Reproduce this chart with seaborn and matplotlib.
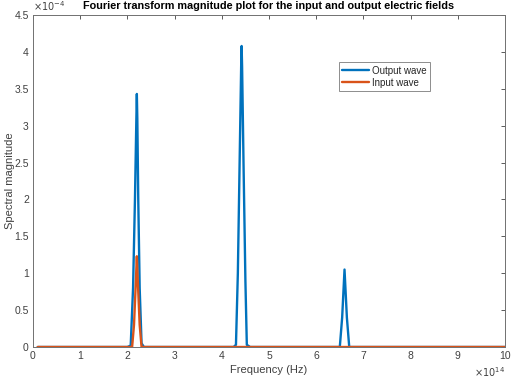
import matplotlib
matplotlib.use("Agg")
import matplotlib.pyplot as plt
import seaborn as sns
import pandas as pd

# Frequencies in units of 1e14 Hz, magnitudes in units of 1e-4
output_freq = [0.1, 2.0, 2.07, 2.12, 2.16, 2.19, 2.2, 2.21, 2.23, 2.26, 2.3, 2.35,
               4.25, 4.3, 4.34, 4.38, 4.41, 4.42, 4.43, 4.46, 4.5, 4.53, 4.6,
               6.5, 6.55, 6.6, 6.65, 6.7, 10.0]
output_mag = [0.0, 0.0, 0.02, 0.8, 2.0, 3.1, 3.43, 3.1, 2.0, 0.8, 0.05, 0.0,
              0.0, 0.03, 1.0, 2.6, 3.8, 4.08, 3.8, 2.5, 0.9, 0.03, 0.0,
              0.0, 0.4, 1.05, 0.4, 0.0, 0.0]
input_freq = [0.1, 2.1, 2.14, 2.18, 2.2, 2.22, 2.26, 2.3, 10.0]
input_mag = [0.0, 0.0, 0.3, 0.9, 1.23, 0.9, 0.3, 0.0, 0.0]

xticks = list(range(0, 11))
yticks = [0, 0.5, 1, 1.5, 2, 2.5, 3, 3.5, 4, 4.5]
ytick_labels = ["0", "0.5", "1", "1.5", "2", "2.5", "3", "3.5", "4", "4.5"]

title = "Fourier transform magnitude plot for the input and output electric fields"
xlabel = "Frequency (Hz)"
ylabel = "Spectral magnitude"

blue = "#0072BD"
red = "#D95319"

sns.set_style("white")
plt.rcParams["font.family"] = ["Liberation Sans", "DejaVu Sans"]

df_out = pd.DataFrame({"f": output_freq, "m": output_mag})
df_in = pd.DataFrame({"f": input_freq, "m": input_mag})

fig = plt.figure(figsize=(5.11, 3.80), dpi=100)
ax = fig.add_axes([33 / 511, 1 - 347 / 380, 472 / 511, 332 / 380])

sns.lineplot(data=df_out, x="f", y="m", ax=ax, color=blue, lw=1.7,
             sort=False, estimator=None, label="Output wave")
sns.lineplot(data=df_in, x="f", y="m", ax=ax, color=red, lw=1.7,
             sort=False, estimator=None, label="Input wave")

ax.set_xlim(0, 10)
ax.set_ylim(0, 4.5)
ax.set_xticks(xticks)
ax.set_xticklabels([str(t) for t in xticks])
ax.set_yticks(yticks)
ax.set_yticklabels(ytick_labels)

tc = "#404040"
ax.tick_params(direction="in", length=3, width=0.6, colors=tc, labelsize=7.5,
               top=True, right=True, pad=3)
ax.tick_params(axis="both", labelcolor=tc)
for s in ax.spines.values():
    s.set_visible(True)
    s.set_color("#707070")
    s.set_linewidth(0.7)

ax.set_xlabel(xlabel, fontsize=8, color=tc, labelpad=3)
ax.set_ylabel(ylabel, fontsize=8, color=tc, va="center")
ax.yaxis.set_label_coords(-0.048, 0.5)
ax.set_title(title, fontsize=7.8, fontweight="bold", color="black", pad=4)

ax.text(0.0, 1.005, r"$\times10^{-4}$", transform=ax.transAxes, ha="left",
        va="bottom", fontsize=7, color=tc)
ax.text(1.0, -0.056, r"$\times10^{14}$", transform=ax.transAxes, ha="right",
        va="top", fontsize=7, color=tc)

leg = ax.legend(loc="upper left", bbox_to_anchor=(0.648, 0.857), fontsize=7,
                frameon=True, fancybox=False, edgecolor="#707070",
                handlelength=2.8, handletextpad=0.3, borderpad=0.35,
                labelspacing=0.2, borderaxespad=0)
leg.get_frame().set_linewidth(0.7)
for t in leg.get_texts():
    t.set_color("#262626")

fig.savefig("out.png", dpi=100)
